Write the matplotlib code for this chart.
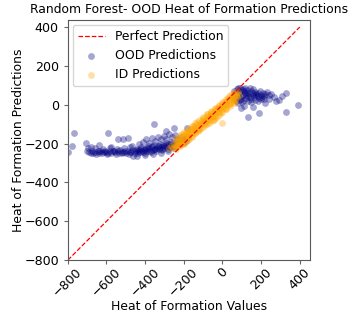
import numpy as np
import matplotlib.pyplot as plt

# OOD predictions (navy)
ood_x = [-798, -767, -776, -707, -698, -681, -638, -590, -578, -543, -517, -491, -353, -293, -250, -181,
         -700, -690, -682, -675, -668, -660, -652, -645, -638, -630, -622, -615, -606, -598, -590, -582,
         -575, -566, -558, -550, -542, -535, -528, -520, -512, -505, -498, -490, -482, -475, -468, -462, -455,
         -660, -620, -580, -545, -510, -480, -470,
         -450, -444, -438, -432, -426, -420, -414, -408, -402, -396, -390, -384, -378, -372, -366, -360,
         -354, -348, -342, -336, -330, -324, -318, -312, -306, -300, -294, -288, -282, -276, -270, -264,
         -258, -252, -246, -240, -234, -228,
         -430, -410, -395, -380, -365, -350, -335, -320, -305, -290, -275, -260, -245, -230, -215, -200, -190,
         -440, -400, -360, -320, -280,
         -225, -212, -205, -198, -190,
         -447, -435, -423, -411, -399, -387, -375, -363, -351, -339, -327, -315, -303, -291, -279, -267,
         -255, -243, -231, -219, -640, -600, -560, -520, -480,
         60, 68, 75, 82, 90, 95, 100, 108, 115, 120, 125, 130, 138, 145, 150, 156, 162, 168, 175, 182,
         188, 195, 200, 208, 215, 222, 230, 238, 70, 80, 88, 100, 110, 78, 92, 105, 118, 140, 160,
         55, 62, 72, 130, 150, 170, 185, 200, 215,
         85, 98, 112, 128, 142, 158, 172, 186, 65, 74, 204, 122,
         250, 265, 293, 310, 328, 331, 388, 95, 110, 134, 190, 160, 220, 240, 275]
ood_y = [-245, -144, -213, -196, -225, -216, -208, -148, -216, -178, -177, -173, -100, -136, -122, -122,
         -238, -245, -250, -236, -248, -242, -252, -240, -247, -236, -250, -244, -238, -252, -246, -240,
         -248, -236, -244, -252, -240, -246, -234, -250, -242, -236, -248, -240, -254, -244, -232, -262, -246,
         -225, -228, -222, -226, -224, -220, -210,
         -238, -226, -250, -232, -244, -218, -236, -228, -248, -222, -238, -212, -230, -242, -220, -234,
         -206, -226, -238, -214, -228, -200, -220, -234, -208, -222, -196, -214, -228, -204, -218, -192,
         -210, -224, -198, -212, -188, -204,
         -200, -190, -176, -195, -170, -185, -165, -178, -160, -175, -150, -168, -158, -175, -165, -180, -170,
         -262, -258, -255, -248, -240,
         -190, -182, -195, -176, -188,
         -232, -240, -228, -245, -232, -225, -240, -215, -230, -222, -212, -228, -214, -205, -218, -200,
         -215, -205, -195, -200, -240, -245, -240, -245, -242,
         70, 55, 80, 40, 65, 30, 75, 50, 60, 35, 78, 45, 62, 28, 70, 52, 40, 66, 48, 58,
         36, 70, 50, 62, 44, 56, 66, 48, 20, 10, 25, 15, 22, 85, 88, 82, 86, 84, 80,
         45, 30, 38, 18, 12, 25, 20, 30, 28,
         60, 45, 70, 58, 40, 62, 55, 45, 62, 48, 42, 50,
         55, 40, 24, 45, 62, -36, -2, -19, -5, -65, -41, -10, 10, 30, 20]

# ID predictions (orange)
id_x = [-250, -245, -240, -236, -232, -228, -224, -220, -216, -212, -208, -204, -200, -196, -192, -188,
        -184, -180, -176, -172, -168, -164, -160, -156, -152, -148, -144, -140, -136, -132, -128, -124,
        -120, -116, -112, -108, -104, -100, -96, -92, -88, -84, -80, -76, -72, -68, -64, -60, -56, -52,
        -48, -44, -40, -36, -32, -28, -24, -20, -16, -12, -8, -4, 0, 4, 8, 12, 16, 20, 24, 28, 32, 36,
        40, 44, 48, 52, 56, 60, 64, 68, 72, 76, 80, 84,
        -240, -230, -220, -210, -200, -190, -180, -170, -160, -150, -140, -130, -125, -110, -100, -90,
        -80, -70, -60, -50, -40, -30, -20, -10, 0, -43, 10, 20, 30, 40, 50, 60, 70, -265, -255, -275,
        -240, -240, -220, -220, -200, -200, -180, -180, -160, -160, -140, -140, -120, -120, -100, -100,
        -80, -80, -60, -60, -40, -40, -20, -20, 0, 0, 20, 20, 40, 40, 60, 60,
        -235, -215, -195, -175]
id_y = [-202, -214, -186, -201, -185, -206, -185, -172, -189, -161, -187, -168, -186, -155, -164, -144,
        -162, -145, -164, -145, -137, -150, -123, -138, -122, -142, -122, -109, -126, -98, -124, -104,
        -123, -92, -101, -81, -99, -82, -100, -82, -74, -87, -60, -75, -58, -79, -59, -46, -63, -35,
        -60, -41, -60, -29, -38, -18, -35, -18, -37, -19, -11, -24, 4, -11, 5, -16, 4, 17, 0, 29, 3, 22,
        3, 34, 25, 46, 28, 45, 26, 44, 52, 40, 67, 52,
        -220, -175, -205, -150, -200, -140, -170, -125, -160, -110, -145, -90, -135, -120, -70, -105,
        -50, -95, -35, -80, -20, -62, -5, -45, -96, -79, 15, -20, 40, 10, 55, 15, 62, -215, -225, -225,
        -228, -172, -212, -158, -196, -142, -180, -127, -165, -110, -148, -95, -132, -80, -116, -64,
        -100, -48, -85, -32, -68, -16, -52, 0, -36, 16, -20, 32, -5, 48, 10, 64,
        -210, -200, -190, -175]

line_vals = [-800, 400]

fig = plt.figure(figsize=(3.57, 3.18), dpi=100)
ax = fig.add_axes([0.19, 0.182, 0.678, 0.755])
fs = 8.9

ax.plot(line_vals, line_vals, color='red', linestyle='--', linewidth=0.9, label='Perfect Prediction')
ax.scatter(ood_x, ood_y, s=24, color='navy', alpha=0.35, linewidths=0, label='OOD Predictions')
ax.scatter(id_x, id_y, s=24, color='orange', alpha=0.35, linewidths=0, label='ID Predictions')

ax.set_xlim(-800, 452)
ax.set_ylim(-800, 436)
ax.set_xticks([-800, -600, -400, -200, 0, 200, 400])
ax.set_yticks([-800, -600, -400, -200, 0, 200, 400])
ax.tick_params(labelsize=9.1, length=3, color='0.4')
ax.tick_params(axis='x', pad=1)
plt.setp(ax.get_xticklabels(), rotation=45)
for s in ax.spines.values():
    s.set_color('0.35')
    s.set_linewidth(0.8)

ax.set_xlabel('Heat of Formation Values', fontsize=fs)
ax.set_ylabel('Heat of Formation Predictions', fontsize=fs)
ax.xaxis.set_label_coords(0.5, -0.165)
ax.yaxis.set_label_coords(-0.176, 0.5)
ax.set_title('Random Forest- OOD Heat of Formation Predictions', fontsize=fs, pad=5)
ax.legend(loc='upper left', fontsize=fs, handlelength=2.2, borderaxespad=0.4)

fig.savefig('out.png', dpi=100)
